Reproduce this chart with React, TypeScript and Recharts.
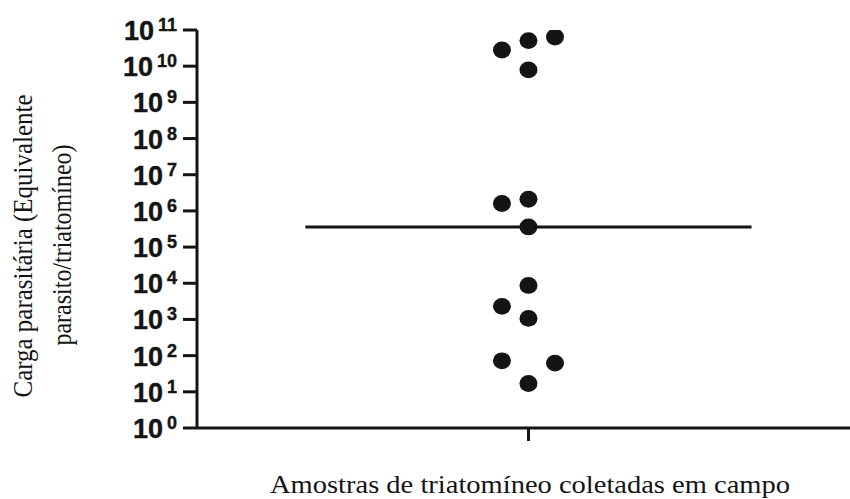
import React from 'react';
import { ScatterChart, Scatter, XAxis, YAxis, ReferenceLine } from 'recharts';

// Sample positions within the single category column (left / centre / right offsets)
const columnPositions = { left: 0.92, center: 1, right: 1.08 };
const categoryTick = [1];

// Parasite load values (equivalents per triatomine)
const leftValues = [2.8e10, 1.6e6, 2.3e3, 72];
const centerValues = [5.1e10, 7.9e9, 2.1e6, 3.6e5, 8.7e3, 1.07e3, 17];
const rightValues = [6.4e10, 62];

const yTicks = [1, 1e1, 1e2, 1e3, 1e4, 1e5, 1e6, 1e7, 1e8, 1e9, 1e10, 1e11];

const medianHalfWidth = 0.673;

const yTitleLines = ['Carga parasitária (Equivalente', 'parasito/triatomíneo)'];
const xTitle = 'Amostras de triatomíneo coletadas em campo';

const allValues = [...leftValues, ...centerValues, ...rightValues].sort((a, b) => a - b);
const median = allValues[Math.floor(allValues.length / 2)];

const points = [
  ...leftValues.map((v) => ({ x: columnPositions.left, y: v })),
  ...centerValues.map((v) => ({ x: columnPositions.center, y: v })),
  ...rightValues.map((v) => ({ x: columnPositions.right, y: v })),
];

const INK = '#141414';

const PowerTick = (props: any) => {
  const { x, y, payload } = props;
  const exp = Math.round(Math.log10(payload.value));
  return (
    <text
      x={x - 4}
      y={y + 10}
      textAnchor="end"
      fill={INK}
      stroke={INK}
      strokeWidth={0.4}
      fontFamily='"Liberation Sans", Arial, sans-serif'
      fontWeight="bold"
      fontSize={27}
    >
      10
      <tspan dx={4} dy={-9} fontSize={18}>{String(exp)}</tspan>
    </text>
  );
};

const Dot = (props: any) => {
  const { cx, cy } = props;
  if (cx == null || cy == null) return null;
  return <ellipse cx={cx} cy={cy} rx={9} ry={8.4} fill={INK} />;
};

const serif = '"Liberation Serif", "Times New Roman", serif';

export default function App() {
  return (
    <div style={{ position: 'absolute', left: 0, top: 0, width: 850, height: 499, background: '#fff' }}>
      <ScatterChart width={850} height={499} margin={{ top: 30, right: 0, bottom: 0, left: 77 }}>
        <XAxis
          dataKey="x"
          type="number"
          domain={[0, 1.97]}
          ticks={categoryTick}
          tickFormatter={() => ''}
          tickSize={13}
          height={71}
          axisLine={{ stroke: INK, strokeWidth: 3 }}
          tickLine={{ stroke: INK, strokeWidth: 3 }}
          label={{
            content: () => (
              <text
                x={530}
                y={493}
                textAnchor="middle"
                fontFamily={serif}
                fontSize={26}
                fill={INK}
                textLength={520}
                lengthAdjust="spacingAndGlyphs"
              >
                {xTitle}
              </text>
            ),
          }}
        />
        <YAxis
          dataKey="y"
          type="number"
          scale="log"
          domain={[1, 1e11]}
          ticks={yTicks}
          allowDataOverflow
          width={120}
          tickSize={14}
          tick={<PowerTick />}
          axisLine={{ stroke: INK, strokeWidth: 3 }}
          tickLine={{ stroke: INK, strokeWidth: 3 }}
          label={{
            content: () => (
              <g fontFamily={serif} fontSize={27} fill={INK}>
                <text
                  transform="translate(32,246) rotate(-90)"
                  textAnchor="middle"
                  textLength={303}
                  lengthAdjust="spacingAndGlyphs"
                >
                  {yTitleLines[0]}
                </text>
                <text
                  transform="translate(71,245) rotate(-90)"
                  textAnchor="middle"
                  textLength={201}
                  lengthAdjust="spacingAndGlyphs"
                >
                  {yTitleLines[1]}
                </text>
              </g>
            ),
          }}
        />
        <ReferenceLine
          segment={[
            { x: 1 - medianHalfWidth, y: median },
            { x: 1 + medianHalfWidth, y: median },
          ]}
          stroke={INK}
          strokeWidth={3}
          ifOverflow="visible"
        />
        <Scatter data={points} shape={<Dot />} isAnimationActive={false} />
      </ScatterChart>
    </div>
  );
}
